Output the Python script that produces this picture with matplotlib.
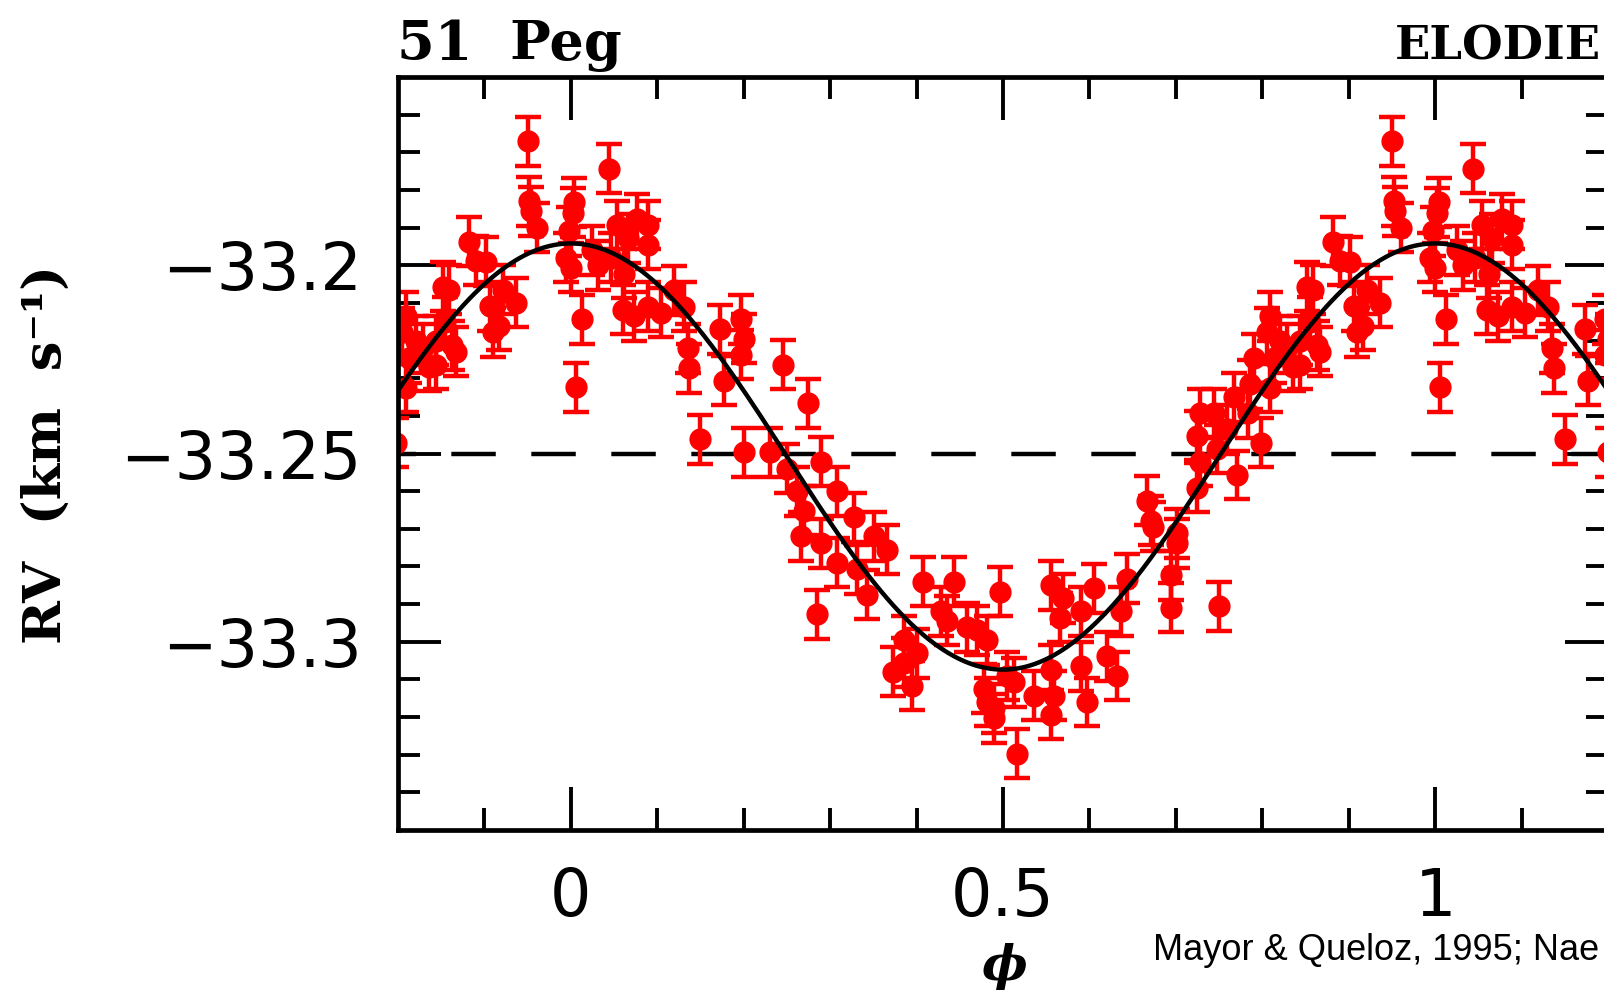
#!/usr/bin/env python3
import numpy as np
import matplotlib.pyplot as plt
from matplotlib.ticker import FixedLocator

phase = [
    0.000, 0.002, 0.004, 0.006, 0.013, 0.025, 0.032, 0.044, 0.046, 0.054,
    0.060, 0.062, 0.066, 0.073, 0.077, 0.089, 0.089, 0.089, 0.104, 0.119,
    0.131, 0.135, 0.137, 0.150, 0.173, 0.177, 0.197, 0.197, 0.200, 0.200,
    0.231, 0.245, 0.250, 0.262, 0.266, 0.270, 0.274, 0.285, 0.289, 0.289,
    0.308, 0.308, 0.328, 0.331, 0.343, 0.351, 0.366, 0.373, 0.385, 0.385,
    0.395, 0.401, 0.408, 0.428, 0.435, 0.443, 0.458, 0.470, 0.478, 0.482,
    0.482, 0.490, 0.490, 0.497, 0.505, 0.513, 0.516, 0.536, 0.555, 0.555,
    0.555, 0.559, 0.566, 0.570, 0.590, 0.590, 0.597, 0.605, 0.620, 0.632,
    0.636, 0.643, 0.667, 0.671, 0.674, 0.694, 0.694, 0.701, 0.701, 0.724,
    0.724, 0.728, 0.728, 0.744, 0.748, 0.750, 0.759, 0.767, 0.771, 0.783,
    0.786, 0.790, 0.798, 0.805, 0.809, 0.809, 0.813, 0.821, 0.829, 0.836,
    0.844, 0.844, 0.852, 0.855, 0.859, 0.863, 0.867, 0.882, 0.890, 0.902,
    0.906, 0.910, 0.917, 0.921, 0.936, 0.950, 0.952, 0.954, 0.961, 0.994,
    0.998,
]
rv = [
    -33.2006, -33.1860, -33.1833, -33.2324, -33.2143, -33.1960, -33.2000, -33.1743, -33.1980, -33.1893,
    -33.2118, -33.2023, -33.1928, -33.2135, -33.1877, -33.1893, -33.1945, -33.2110, -33.2126, -33.2066,
    -33.2110, -33.2221, -33.2273, -33.2462, -33.2170, -33.2307, -33.2143, -33.2238, -33.2195, -33.2497,
    -33.2497, -33.2264, -33.2540, -33.2600, -33.2720, -33.2652, -33.2367, -33.2927, -33.2522, -33.2738,
    -33.2600, -33.2790, -33.2669, -33.2807, -33.2875, -33.2720, -33.2755, -33.3080, -33.2996, -33.3056,
    -33.3117, -33.3030, -33.2841, -33.2919, -33.2944, -33.2841, -33.2962, -33.2970, -33.3125, -33.2996,
    -33.3160, -33.3177, -33.3203, -33.2867, -33.3091, -33.3108, -33.3298, -33.3143, -33.2850, -33.3074,
    -33.3194, -33.3143, -33.2936, -33.2884, -33.2919, -33.3065, -33.3160, -33.2858, -33.3039, -33.3091,
    -33.2919, -33.2833, -33.2626, -33.2678, -33.2695, -33.2824, -33.2910, -33.2738, -33.2712, -33.2453,
    -33.2591, -33.2393, -33.2522, -33.2393, -33.2488, -33.2906, -33.2436, -33.2350, -33.2557, -33.2393,
    -33.2316, -33.2247, -33.2471, -33.2178, -33.2135, -33.2326, -33.2247, -33.2200, -33.2221, -33.2270,
    -33.2264, -33.2200, -33.2057, -33.2150, -33.2065, -33.2212, -33.2230, -33.1937, -33.1988, -33.1990,
    -33.2109, -33.2178, -33.2160, -33.2065, -33.2100, -33.1670, -33.1830, -33.1857, -33.1900, -33.1980,
    -33.1910,
]
rv_err = 0.0065

# orbital fit: systemic velocity and semi-amplitude (km/s)
gamma = -33.2508
semi_amp = 0.0566

phase = np.array(phase)
rv = np.array(rv)

fig = plt.figure(figsize=(16.04, 9.94), dpi=100)
ax = fig.add_axes([0.2481, 0.165, 0.7544, 0.7575])

# phase-folded points repeated one cycle either side
for shift in (-1, 0, 1):
    ax.errorbar(phase + shift, rv, yerr=rv_err, fmt="o", color="#ff0000",
                ms=15, elinewidth=3.2, capsize=9.5, capthick=3.2, zorder=2)

fit_phase = np.linspace(-0.2, 1.2, 600)
ax.plot(fit_phase, gamma + semi_amp * np.cos(2 * np.pi * fit_phase),
        color="black", lw=3.2, zorder=3)
ax.axhline(-33.25, color="black", lw=3.2, ls=(6, (10, 8)), zorder=1)

ax.set_xlim(-0.2, 1.2)
ax.set_ylim(-33.35, -33.15)

ax.xaxis.set_major_locator(FixedLocator([0, 0.5, 1]))
ax.xaxis.set_minor_locator(FixedLocator(np.round(np.arange(-0.1, 1.2, 0.1), 2)))
ax.set_xticklabels(["0", "0.5", "1"])
ax.yaxis.set_major_locator(FixedLocator([-33.3, -33.25, -33.2]))
ax.yaxis.set_minor_locator(FixedLocator(np.round(np.arange(-33.34, -33.155, 0.01), 2)))
ax.set_yticklabels(["\u221233.3", "\u221233.25", "\u221233.2"])

ax.tick_params(which="both", direction="in", top=True, right=True, width=2.8,
               color="black")
ax.tick_params(which="major", length=31)
ax.tick_params(which="minor", length=16)
ax.tick_params(axis="x", which="major", pad=26, labelsize=47)
ax.tick_params(axis="y", which="major", pad=26, labelsize=47)
for lab in ax.get_xticklabels() + ax.get_yticklabels():
    lab.set_family("DejaVu Sans")
for sp in ax.spines.values():
    sp.set_linewidth(3.4)

fig.text(397 / 1604, 1 - 60 / 994, "51  Peg", family="DejaVu Serif",
         weight="bold", fontsize=39, ha="left", va="baseline")
fig.text(1601 / 1604, 1 - 60 / 994, "ELODIE", family="DejaVu Serif",
         weight="bold", fontsize=33.5, ha="right", va="baseline")
fig.text(46 / 1604, 1 - 455 / 994, "RV  (km  s\u207b\u00b9)", family="DejaVu Serif",
         weight="bold", fontsize=38, rotation=90, ha="center", va="center")
fig.text(1004 / 1604, 1 - 966 / 994, "\u03d5", family="DejaVu Serif",
         weight="bold", style="italic", fontsize=35, ha="center", va="center")
fig.text(1153 / 1604, 1 - 951 / 994, "Mayor & Queloz, 1995; Nae",
         family="Liberation Sans", fontsize=26, ha="left", va="center")

fig.savefig("out.png", dpi=100, facecolor="white")
